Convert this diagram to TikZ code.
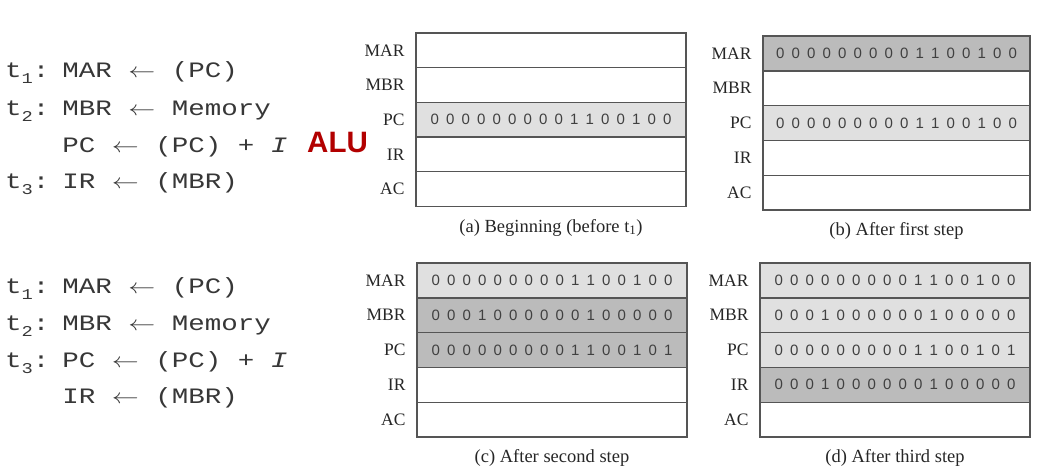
\documentclass[tikz,border=0pt]{standalone}
\usepackage{fontspec}
\setmainfont{Liberation Serif}
\newfontfamily\codefont[FakeStretch=1.25]{Liberation Mono}
\newfontfamily\bitfont{Liberation Sans}
\usetikzlibrary{positioning}

\definecolor{regline}{RGB}{85,85,85}
\definecolor{reglight}{RGB}{224,224,224}
\definecolor{regdark}{RGB}{187,187,187}
\definecolor{alured}{RGB}{178,0,0}
\definecolor{codegray}{RGB}{55,55,55}

% spaced register bits
\newcommand{\bits}[1]{\edef\bitstmp{#1}\expandafter\bitsloop\bitstmp\relax}
\def\bitsloop#1{\ifx#1\relax\else\makebox[15.5pt]{#1}\expandafter\bitsloop\fi}
\newcommand{\tsub}[1]{t\raisebox{-0.3em}{\fontsize{15}{15}\selectfont #1}:\hspace{13pt}}
\newcommand{\lto}{\scalebox{1.3}[1]{$\leftarrow$}}

\tikzset{
  reg/.style={draw=regline, line width=1.3pt, minimum width=270pt, minimum height=34.7pt,
    inner sep=0pt, outer sep=0pt, font=\bitfont\fontsize{15}{15}\selectfont, text=black!75},
  reglab/.style={font=\fontsize{17.5}{17.5}\selectfont, text=black!85, left=8pt of #1},
  regcap/.style={font=\fontsize{18.5}{18.5}\selectfont, text=black!85, below=9pt of #1},
  code/.style={font=\codefont\fontsize{22}{22}\selectfont, text=codegray, anchor=base west, inner sep=0pt},
}

\begin{document}
\begin{tikzpicture}[x=1pt, y=-1pt]
  \useasboundingbox (0,0) rectangle (1046,475);

  % Mikrooperace - nahore
  \node[code] (ua1) at (5,77) {\tsub1MAR \lto{} (PC)};
  \node[code] (ua2) at (5,115) {\tsub2MBR \lto{} Memory};
  \node[code] (ua3) at (5,152) {\phantom{\tsub2}PC \lto{} (PC) + \textit{I}};
  \node[code] (ua4) at (5,188) {\tsub3IR \lto{} (MBR)};
  \node[anchor=base west, inner sep=0pt, text=alured, font=\bitfont\bfseries\fontsize{29.5}{29.5}\selectfont] (alu) at (307,152) {ALU};

  % Mikrooperace - dole
  \node[code] (ub1) at (5,293) {\tsub1MAR \lto{} (PC)};
  \node[code] (ub2) at (5,330) {\tsub2MBR \lto{} Memory};
  \node[code] (ub3) at (5,367) {\tsub3PC \lto{} (PC) + \textit{I}};
  \node[code] (ub4) at (5,403) {\phantom{\tsub3}IR \lto{} (MBR)};

  % (a) Beginning
  \foreach \r/\lab/\f/\b in {1/MAR/white/, 2/MBR/white/, 3/PC/reglight/0000000001100100, 4/IR/white/, 5/AC/white/}
  {
    \node[reg, fill=\f] (a\r) at (551,{33+(\r-0.5)*34.7}) {\bits{\b}};
    \node[reglab=a\r] (la\r) {\lab};
  }
  \node[regcap=a5] (capa) {(a) Beginning (before t\textsubscript{1})};

  % (b) After first step
  \foreach \r/\lab/\f/\b in {1/MAR/regdark/0000000001100100, 2/MBR/white/, 3/PC/reglight/0000000001100100, 4/IR/white/, 5/AC/white/}
  {
    \node[reg, fill=\f, minimum width=267pt] (b\r) at (896.5,{36+(\r-0.5)*34.8}) {\bits{\b}};
    \node[reglab=b\r] (lb\r) {\lab};
  }
  \node[regcap=b5] (capb) {(b) After first step};

  % (c) After second step
  \foreach \r/\lab/\f/\b in {1/MAR/reglight/0000000001100100, 2/MBR/regdark/0001000000100000, 3/PC/regdark/0000000001100101, 4/IR/white/, 5/AC/white/}
  {
    \node[reg, fill=\f] (c\r) at (552,{263+(\r-0.5)*34.8}) {\bits{\b}};
    \node[reglab=c\r] (lc\r) {\lab};
  }
  \node[regcap=c5] (capc) {(c) After second step};

  % (d) After third step
  \foreach \r/\lab/\f/\b in {1/MAR/reglight/0000000001100100, 2/MBR/reglight/0001000000100000, 3/PC/reglight/0000000001100101, 4/IR/regdark/0001000000100000, 5/AC/white/}
  {
    \node[reg, fill=\f] (d\r) at (895,{263+(\r-0.5)*34.8}) {\bits{\b}};
    \node[reglab=d\r] (ld\r) {\lab};
  }
  \node[regcap=d5] (capd) {(d) After third step};
\end{tikzpicture}
\end{document}
